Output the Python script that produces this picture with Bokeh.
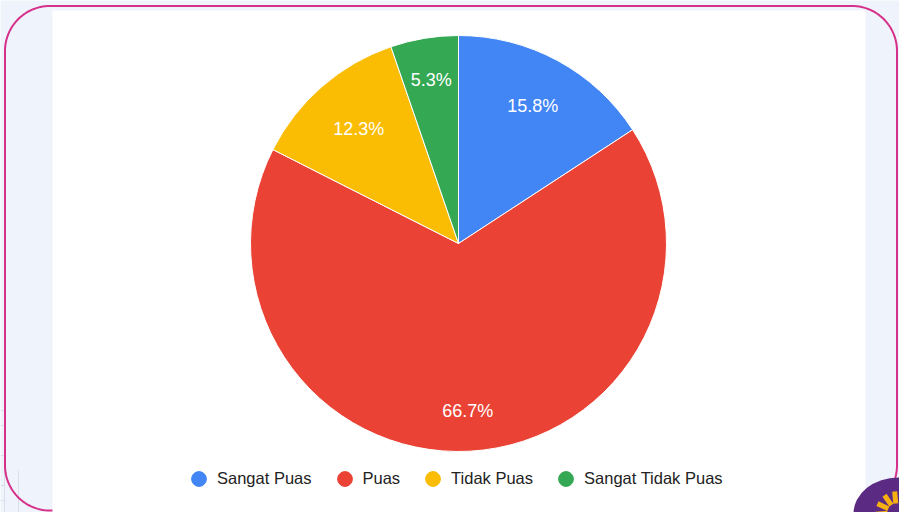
import math
import numpy as np
from bokeh.plotting import figure
from bokeh.models import Range1d, ColumnDataSource, Legend, LegendItem
from bokeh.core.properties import value
from bokeh.embed import file_html
from bokeh.resources import INLINE

# ---- data ----
categories = ["Sangat Puas", "Puas", "Tidak Puas", "Sangat Tidak Puas"]
counts = [9, 38, 7, 3]
colors = ["#4285F4", "#EA4335", "#FBBC04", "#34A853"]

# ---- layout / style ----
W, H = 899, 512
X0, Y0 = 0, 0          # page offset of the figure
PAGE_H = 512
label_frac = [0.75, 0.805, 0.73, 0.795]   # label radial position (fraction of radius)

def py(page_y):
    return PAGE_H - page_y

p = figure(width=W, height=H,
           x_range=Range1d(X0, X0 + W), y_range=Range1d(py(Y0 + H), py(Y0)),
           output_backend="svg", toolbar_location=None, min_border=0,
           x_axis_location=None, y_axis_location=None)
p.grid.visible = False
p.outline_line_color = None
bg = "#EFF3FC"
p.background_fill_color = bg
p.border_fill_color = bg

# faint background grid lines (decoration, bottom-left)
for gx in [4, 18]:
    p.line([gx, gx], [py(512), py(470)], line_color="#DCE0EA", line_width=1)
for gy in [410, 425, 455, 485, 500]:
    p.line([0, 5], [py(gy), py(gy)], line_color="#DCE0EA", line_width=1)

# rounded frame border (decoration)
L, Rr, T, B, rad = 4.5, 896.5, py(5.5), py(510), 45
xs, ys = [], []
def arc(cx, cy, a0, a1):
    a = np.linspace(a0, a1, 30)
    xs.extend(cx + rad * np.cos(a)); ys.extend(cy + rad * np.sin(a))
arc(Rr - rad, T - rad, 0, math.pi / 2)
arc(L + rad, T - rad, math.pi / 2, math.pi)
arc(L + rad, B + rad, math.pi, 1.5 * math.pi)
arc(Rr - rad, B + rad, 1.5 * math.pi, 2 * math.pi)
xs.append(xs[0]); ys.append(ys[0])
p.line(xs, ys, line_color="#D6308A", line_width=2)

# white chart panel
p.quad(left=52, right=865, bottom=py(520), top=py(10), fill_color="white", line_color=None)

# purple badge bottom-right
p.ellipse(x=898, y=py(513), width=90, height=72, fill_color="#5B2A83", line_color=None)
bcx, bcy = 896, py(512)
for ang in [95, 125, 155, 185]:
    a = math.radians(ang)
    p.line([bcx + 9 * math.cos(a), bcx + 21 * math.cos(a)],
           [bcy + 9 * math.sin(a), bcy + 21 * math.sin(a)],
           line_color="#F6B012", line_width=5)

# ---- pie ----
total = sum(counts)
fracs = [c / total for c in counts]
cum = [0.0]
for f in fracs:
    cum.append(cum[-1] + f)
start = [math.pi / 2 - 2 * math.pi * cum[i] for i in range(len(counts))]
end = [math.pi / 2 - 2 * math.pi * cum[i + 1] for i in range(len(counts))]
cx, cy, R = 458, py(243), 208

src = ColumnDataSource(dict(cat=categories, start=start, end=end, color=colors))
p.wedge(x=cx, y=cy, radius=R, start_angle="start", end_angle="end", direction="clock",
        fill_color="color", line_color="white", line_width=1, source=src)

mid = [(s + e) / 2 for s, e in zip(start, end)]
lx = [cx + R * k * math.cos(m) for k, m in zip(label_frac, mid)]
ly = [cy + R * k * math.sin(m) for k, m in zip(label_frac, mid)]
labels = [f"{f * 100:.1f}%" for f in fracs]
p.text(x=lx, y=ly, text=labels, text_color="white", text_font=value("Liberation Sans"),
       text_font_size="18px", text_align="center", text_baseline="middle")

# ---- legend ----
items = []
for cat, col in zip(categories, colors):
    r = p.scatter(x=[float("nan")], y=[float("nan")], marker="circle", size=15,
                  fill_color=col, line_color=col)
    items.append(LegendItem(label=cat, renderers=[r]))
gw = 37
legend = Legend(items=items, orientation="horizontal",
                location=(int(199 - gw / 2 - X0), int((Y0 + H - 478) - gw / 2)),
                glyph_width=gw, glyph_height=gw, label_standoff=0, spacing=14,
                padding=0, margin=0, border_line_color=None, background_fill_alpha=0,
                label_text_font="Liberation Sans", label_text_font_size="16.5px",
                label_text_color="#222222")
p.add_layout(legend)

open("out.html", "w").write(file_html(p, INLINE))
